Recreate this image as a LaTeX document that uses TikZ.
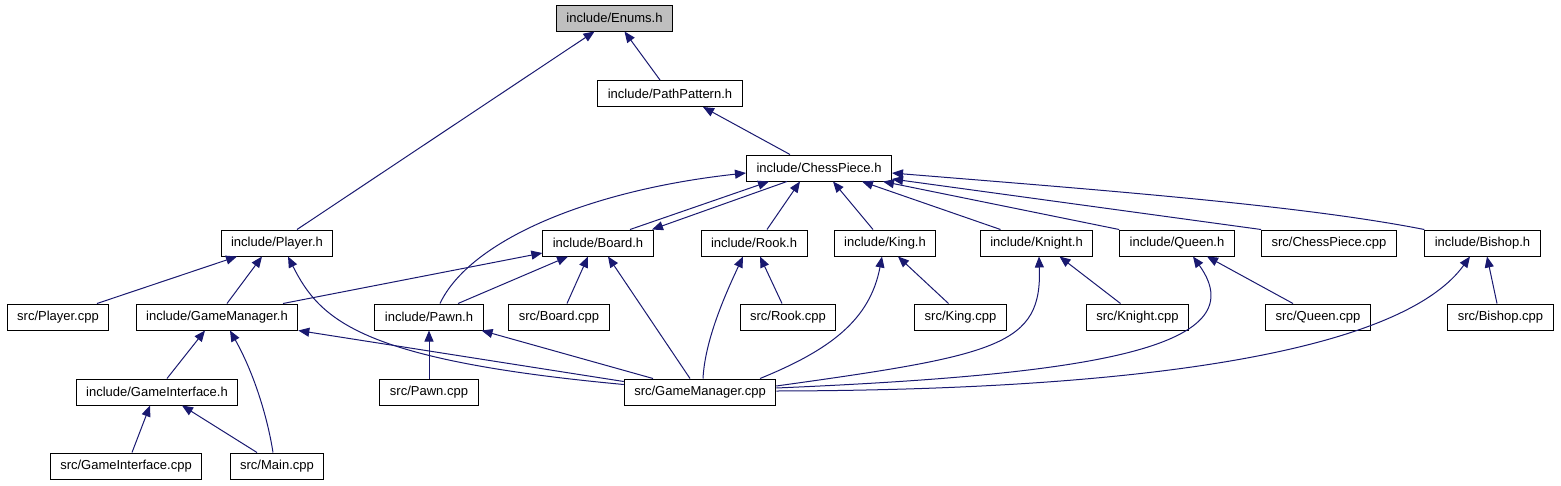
\documentclass[tikz,border=0pt]{standalone}
\usepackage{fontspec}
\setmainfont{Liberation Sans}
\usepackage{xcolor}
\usetikzlibrary{arrows.meta}
\definecolor{edgeblue}{HTML}{191970}
\definecolor{rootgray}{HTML}{BFBFBF}
\tikzset{
  file/.style={draw=black,line width=1pt,fill=white,minimum height=26pt,inner xsep=10pt,inner ysep=0pt,font=\fontsize{13}{15}\selectfont},
  rootfile/.style={file,fill=rootgray},
  incl/.style={draw=edgeblue,line width=1pt,{Triangle[length=11pt,width=9pt]}-}
}
\begin{document}
\begin{tikzpicture}[x=1pt,y=-1pt]
\useasboundingbox (0,0) rectangle (1561,485);
\node[rootfile] (enums) at (614.5,18) {include/Enums.h};
\node[file] (path) at (670,93.5) {include/PathPattern.h};
\node[file] (chess) at (819,168) {include/ChessPiece.h};
\node[file] (player) at (277,243) {include/Player.h};
\node[file] (board) at (598,243) {include/Board.h};
\node[file] (rook) at (754,243) {include/Rook.h};
\node[file] (king) at (885,243) {include/King.h};
\node[file] (knight) at (1036.5,243) {include/Knight.h};
\node[file] (queen) at (1177,243) {include/Queen.h};
\node[file] (chesscpp) at (1329,243) {src/ChessPiece.cpp};
\node[file] (bishop) at (1482.5,243) {include/Bishop.h};
\node[file] (playercpp) at (58,317) {src/Player.cpp};
\node[file] (gmh) at (217,317) {include/GameManager.h};
\node[file] (pawnh) at (429,317) {include/Pawn.h};
\node[file] (boardcpp) at (559,317) {src/Board.cpp};
\node[file] (rookcpp) at (788,317) {src/Rook.cpp};
\node[file] (kingcpp) at (960.5,317) {src/King.cpp};
\node[file] (knightcpp) at (1137.5,317) {src/Knight.cpp};
\node[file] (queencpp) at (1318,317) {src/Queen.cpp};
\node[file] (bishopcpp) at (1500.5,317) {src/Bishop.cpp};
\node[file] (gih) at (157,392) {include/GameInterface.h};
\node[file] (pawncpp) at (429,392) {src/Pawn.cpp};
\node[file] (gmcpp) at (700,392) {src/GameManager.cpp};
\node[file] (gicpp) at (126,466) {src/GameInterface.cpp};
\node[file] (maincpp) at (277,466) {src/Main.cpp};
% Enums.h and PathPattern.h
\draw[incl] ([xshift=-20pt]enums.south) -- ([xshift=20pt]player.north);
\draw[incl] ([xshift=10pt]enums.south) -- ([xshift=-10pt]path.north);
\draw[incl] ([xshift=33pt]path.south) -- ([xshift=-29pt]chess.north);
% ChessPiece.h
\draw[incl] ([yshift=-5pt]chess.west) .. controls (590,190) and (470,240) .. ([xshift=11pt]pawnh.north);
\draw[incl] ([xshift=-50pt]chess.south) -- ([xshift=32pt]board.north);
\draw[incl] ([xshift=54pt]board.north) -- ([xshift=-32pt]chess.south);
\draw[incl] ([xshift=-19pt]chess.south) -- ([xshift=13pt]rook.north);
\draw[incl] ([xshift=14pt]chess.south) -- ([xshift=-12pt]king.north);
\draw[incl] ([xshift=43pt]chess.south) -- ([xshift=-36pt]knight.north);
\draw[incl] ([xshift=64pt]chess.south) -- (queen.north west);
\draw[incl] ([yshift=-11pt]chess.east) -- (chesscpp.north west);
\draw[incl] ([yshift=-5pt]chess.east) .. controls (1100,190) and (1300,205) .. (bishop.north west);
% Player.h
\draw[incl] ([xshift=-40pt]player.south) -- ([xshift=39pt]playercpp.north);
\draw[incl] ([xshift=-15pt]player.south) -- ([xshift=10pt]gmh.north);
\draw[incl] ([xshift=11pt]player.south) .. controls (320,320) and (360,360) .. ([yshift=-6pt]gmcpp.north west);
% Board.h
\draw[incl] ([yshift=-10pt]board.west) -- ([xshift=66pt]gmh.north);
\draw[incl] ([xshift=-30pt]board.south) -- ([xshift=29pt]pawnh.north);
\draw[incl] ([xshift=-10pt]board.south) -- ([xshift=8pt]boardcpp.north);
\draw[incl] ([xshift=10pt]board.south) -- ([xshift=-10pt]gmcpp.north);
% pieces
\draw[incl] ([xshift=6pt]rook.south) -- ([xshift=-6pt]rookcpp.north);
\draw[incl] ([xshift=-11pt]rook.south) .. controls (725,295) and (705,340) .. ([xshift=3pt]gmcpp.north);
\draw[incl] ([xshift=13pt]king.south) -- ([xshift=-12pt]kingcpp.north);
\draw[incl] ([xshift=-3pt]king.south) .. controls (870,320) and (830,350) .. ([xshift=60pt]gmcpp.north);
\draw[incl] ([xshift=23pt]knight.south) -- ([xshift=-17pt]knightcpp.north);
\draw[incl] ([xshift=2.5pt]knight.south) .. controls (1042,345) and (1000,355) .. ([yshift=6pt]gmcpp.east);
\draw[incl] ([xshift=30pt]queen.south) -- ([xshift=-25pt]queencpp.north);
\draw[incl] ([xshift=16pt]queen.south) .. controls (1260,350) and (1080,375) .. ([yshift=4pt]gmcpp.east);
\draw[incl] ([xshift=4.5pt]bishop.south) -- ([xshift=-3.5pt]bishopcpp.north);
\draw[incl] ([xshift=-12.5pt]bishop.south) .. controls (1410,340) and (1200,390) .. ([yshift=1pt]gmcpp.east);
% GameManager.h, Pawn.h, GameInterface.h
\draw[incl] ([xshift=-12pt]gmh.south) -- ([xshift=10pt]gih.north);
\draw[incl] ([xshift=13pt]gmh.south) .. controls (255,375) and (268,420) .. ([xshift=-4pt]maincpp.north);
\draw[incl] (gmh.south east) -- ([yshift=-3pt]gmcpp.north west);
\draw[incl] (pawnh.south) -- (pawncpp.north);
\draw[incl] ([xshift=-2pt]pawnh.south east) -- ([xshift=-47pt]gmcpp.north);
\draw[incl] ([xshift=-7pt]gih.south) -- ([xshift=6pt]gicpp.north);
\draw[incl] ([xshift=25pt]gih.south) -- ([xshift=-20pt]maincpp.north);
\end{tikzpicture}
\end{document}
